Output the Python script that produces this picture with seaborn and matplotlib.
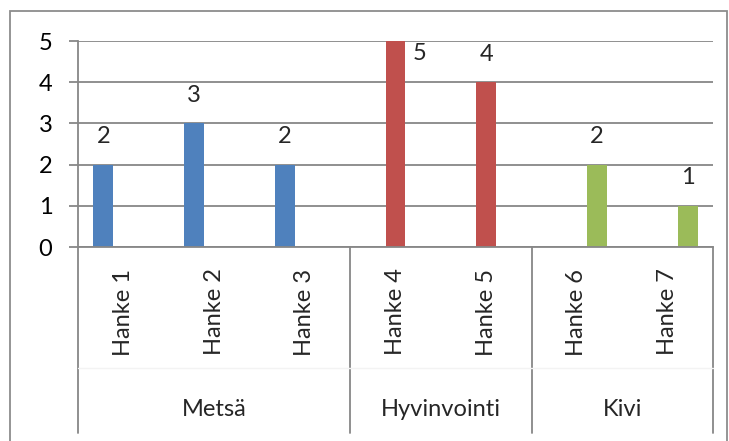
import matplotlib
matplotlib.use("Agg")
import matplotlib.pyplot as plt
import matplotlib.transforms as mtransforms
from matplotlib.patches import Rectangle
import seaborn as sns
import pandas as pd

# Project counts grouped by theme
projects = ["Hanke 1", "Hanke 2", "Hanke 3", "Hanke 4", "Hanke 5", "Hanke 6", "Hanke 7"]
themes = ["Metsä", "Metsä", "Metsä", "Hyvinvointi", "Hyvinvointi", "Kivi", "Kivi"]
counts = [2, 3, 2, 5, 4, 2, 1]

theme_order = ["Metsä", "Hyvinvointi", "Kivi"]
theme_colors = ["#4F81BD", "#C0504D", "#9BBB59"]
y_ticks = [0, 1, 2, 3, 4, 5]

df = pd.DataFrame({"project": projects, "theme": themes, "count": counts})

sns.set_theme(style="white")
plt.rcParams["font.family"] = ["Lato", "DejaVu Sans"]
FS = 17

W, H, DPI = 729, 441, 100
fig = plt.figure(figsize=(W / DPI, H / DPI), dpi=DPI)
x0, x1, y_top, y_bot = 78, 713, 41, 247
ax = fig.add_axes([x0 / W, 1 - y_bot / H, (x1 - x0) / W, (y_bot - y_top) / H])

grid_c = "#878787"
sns.barplot(data=df, x="project", y="count", hue="theme", order=projects,
            hue_order=theme_order, palette=theme_colors, dodge=True,
            width=0.66, linewidth=0, saturation=1, legend=False, ax=ax)

ax.set_xlim(-0.5, len(projects) - 0.5)
ax.set_ylim(0, 5)
ax.set_yticks(y_ticks)
ax.set_yticklabels([str(t) for t in y_ticks], fontsize=FS, color="#000000")
ax.yaxis.grid(True, color=grid_c, linewidth=1.3)
ax.set_axisbelow(True)
ax.tick_params(axis="y", length=6.5, width=1.3, color=grid_c, pad=12, left=True)
ax.tick_params(axis="x", bottom=False, labelbottom=False)
ax.set_xlabel("")
ax.set_ylabel("")
for side in ["top", "right"]:
    ax.spines[side].set_visible(False)
for side in ["left", "bottom"]:
    ax.spines[side].set_color(grid_c)
    ax.spines[side].set_linewidth(1.3)

# Value labels over each bar
n_hue = len(theme_order)
bw = 0.66 / n_hue
ymax = ax.get_ylim()[1]
for i, (v, th) in enumerate(zip(counts, themes)):
    xc = i + (theme_order.index(th) - (n_hue - 1) / 2) * bw
    if v >= ymax:
        ax.text(xc + bw * 1.2, v - 0.3, str(v), ha="center", va="center", fontsize=FS)
    else:
        ax.text(xc, v + 0.42, str(v), ha="center", va="bottom", fontsize=FS)

# Two-level category axis below the plot
trans = mtransforms.blended_transform_factory(ax.transData, ax.transAxes)
ax_h = y_bot - y_top
sep_bottom = -(433 - y_bot) / ax_h
for i, p in enumerate(projects):
    ax.text(i, -(312 - y_bot) / ax_h, p, transform=trans, rotation=90,
            ha="center", va="center", fontsize=FS)

bounds = [-0.5]
for i in range(1, len(themes)):
    if themes[i] != themes[i - 1]:
        bounds.append(i - 0.5)
bounds.append(len(themes) - 0.5)
for b in bounds:
    ax.plot([b, b], [0, sep_bottom], transform=trans, color=grid_c,
            linewidth=1.3, clip_on=False)
ax.plot([-0.5, len(projects) - 0.5], [-(368 - y_bot) / ax_h] * 2, transform=trans,
        color="#f3f3f3", linewidth=1.0, clip_on=False)
for t in theme_order:
    idx = [i for i, th in enumerate(themes) if th == t]
    ax.text((idx[0] + idx[-1]) / 2, -(410 - y_bot) / ax_h, t, transform=trans,
            ha="center", va="center", fontsize=FS)

# Chart area border
fig.patches.append(Rectangle((10 / W, -0.05), (727 - 10) / W, 1.05 - 11 / H,
                             transform=fig.transFigure, fill=False,
                             edgecolor="#8c8c8c", linewidth=1.3))

fig.savefig("out.png", dpi=DPI)
